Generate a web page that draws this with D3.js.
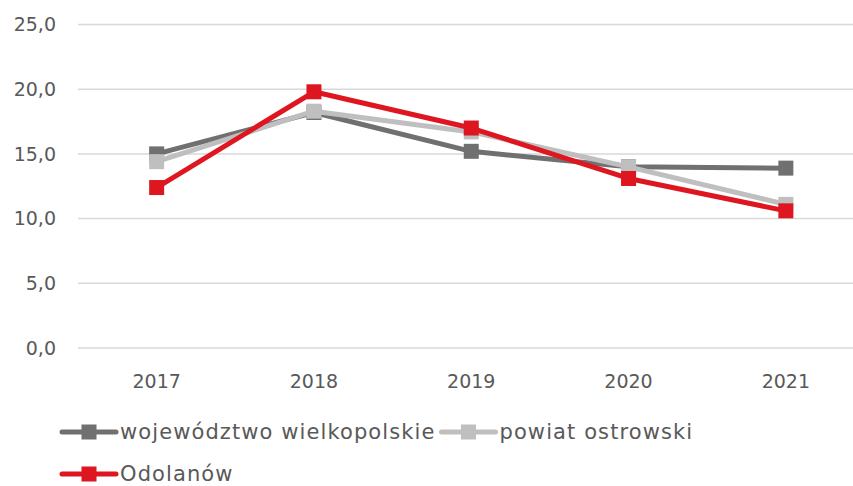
<!DOCTYPE html>
<html>
<head>
<meta charset="utf-8">
<script src="https://cdn.jsdelivr.net/npm/d3@7"></script>
<style>
  body { margin: 0; background: #fff; }
  svg text { font-family: "DejaVu Sans", sans-serif; fill: #595959; }
</style>
</head>
<body>
<div id="chart"></div>
<script>
(function () {

  const years = ["2017", "2018", "2019", "2020", "2021"];
  const wielkopolskie = [15.0, 18.2, 15.2, 14.0, 13.9];
  const ostrowski = [14.4, 18.3, 16.7, 14.0, 11.1];
  const odolanow = [12.4, 19.8, 17.0, 13.1, 10.6];
  const yTicks = [0, 5, 10, 15, 20, 25];

  const series = [
    { name: "województwo wielkopolskie", values: wielkopolskie, color: "#707070" },
    { name: "powiat ostrowski", values: ostrowski, color: "#bfbfbf" },
    { name: "Odolanów", values: odolanow, color: "#de1620" }
  ];

  const W = 853, H = 486;

  const svg = d3.select("#chart")
    .append("svg")
    .attr("width", W)
    .attr("height", H);

  const x = d3.scaleBand()
    .domain(years)
    .range([78, 864.5]);

  const y = d3.scaleLinear()
    .domain([0, 25])
    .range([348, 24.5]);

  const fmt = d => d.toFixed(1).replace(".", ",");

  // gridlines
  svg.append("g")
    .selectAll("line")
    .data(yTicks)
    .join("line")
    .attr("x1", x.range()[0])
    .attr("x2", x.range()[1])
    .attr("y1", d => y(d))
    .attr("y2", d => y(d))
    .attr("stroke", "#d9d9d9")
    .attr("stroke-width", 1.5);

  // y labels
  svg.append("g")
    .selectAll("text")
    .data(yTicks)
    .join("text")
    .attr("x", 56)
    .attr("y", d => y(d))
    .attr("dy", "0.35em")
    .attr("text-anchor", "end")
    .style("font-size", "19px")
    .text(fmt);

  // x labels
  svg.append("g")
    .selectAll("text")
    .data(years)
    .join("text")
    .attr("x", d => x(d) + x.bandwidth() / 2)
    .attr("y", 381)
    .attr("dy", "0.35em")
    .attr("text-anchor", "middle")
    .style("font-size", "19px")
    .text(d => d);

  const line = d3.line()
    .x((d, i) => x(years[i]) + x.bandwidth() / 2)
    .y(d => y(d));

  const ms = 15;

  series.forEach(s => {
    const g = svg.append("g");
    g.append("path")
      .datum(s.values)
      .attr("d", line)
      .attr("fill", "none")
      .attr("stroke", s.color)
      .attr("stroke-width", 5)
      .attr("stroke-linejoin", "round");
    g.selectAll("rect")
      .data(s.values)
      .join("rect")
      .attr("x", (d, i) => x(years[i]) + x.bandwidth() / 2 - ms / 2)
      .attr("y", d => y(d) - ms / 2)
      .attr("width", ms)
      .attr("height", ms)
      .attr("fill", s.color);
  });

  // legend: two entries on the first row, one on the second
  const rows = [432, 474];
  let lx = 60;
  series.forEach((s, i) => {
    const ly = i < 2 ? rows[0] : rows[1];
    if (i === 2) lx = 60;
    const g = svg.append("g").attr("transform", `translate(${lx},${ly})`);
    g.append("line")
      .attr("x1", 2).attr("x2", 56)
      .attr("y1", 0).attr("y2", 0)
      .attr("stroke", s.color)
      .attr("stroke-width", 5)
      .attr("stroke-linecap", "round");
    g.append("rect")
      .attr("x", 29 - ms / 2)
      .attr("y", -ms / 2)
      .attr("width", ms)
      .attr("height", ms)
      .attr("fill", s.color);
    const t = g.append("text")
      .attr("x", 60)
      .attr("y", 0)
      .attr("dy", "0.35em")
      .style("font-size", "21px")
      .style("letter-spacing", "1.1px")
      .text(s.name);
    lx += 60 + t.node().getComputedTextLength() + 4;
  });

})();
</script>
</body>
</html>
